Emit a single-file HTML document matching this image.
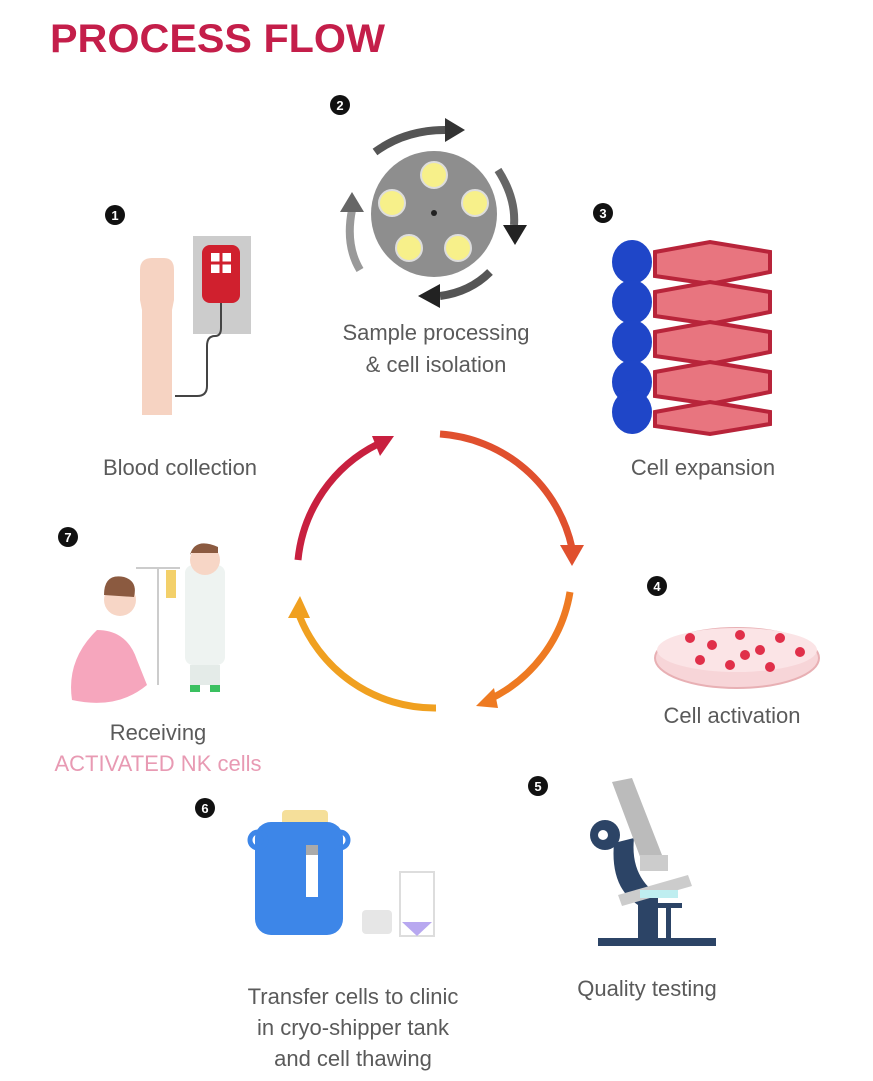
<!DOCTYPE html>
<html><head><meta charset="utf-8"><style>
html,body{margin:0;padding:0;background:#fff}
svg{display:block}
text{font-family:"Liberation Sans",sans-serif}
.l{font-size:22px;fill:#5a5a5a;text-anchor:middle}
.n{font-size:13px;fill:#fff;font-weight:bold;text-anchor:middle}
</style></head><body>
<svg width="873" height="1081" viewBox="0 0 873 1081" xmlns="http://www.w3.org/2000/svg">
<text x="50" y="52" font-size="40" font-weight="bold" fill="#c41e4a" textLength="335" lengthAdjust="spacingAndGlyphs">PROCESS FLOW</text>

<!-- cycle arrows -->
<path d="M298,560 A145,145 0 0 1 378,444" fill="none" stroke="#c8203f" stroke-width="7"/>
<polygon points="372,436 394,436 380,456" fill="#c8203f"/>
<path d="M440,434 A145,145 0 0 1 572,548" fill="none" stroke="#e0502e" stroke-width="7"/>
<polygon points="560,545 584,545 572,566" fill="#e0502e"/>
<path d="M570,592 A145,145 0 0 1 488,700" fill="none" stroke="#ee7a22" stroke-width="7"/>
<polygon points="476,706 494,688 498,708" fill="#ee7a22"/>
<path d="M436,708 A145,145 0 0 1 298,612" fill="none" stroke="#f0a020" stroke-width="7"/>
<polygon points="288,618 300,596 310,618" fill="#f0a020"/>

<!-- step numbers -->
<g fill="#111">
<circle cx="115" cy="215" r="10"/><circle cx="340" cy="105" r="10"/><circle cx="603" cy="213" r="10"/><circle cx="657" cy="586" r="10"/><circle cx="538" cy="786" r="10"/><circle cx="205" cy="808" r="10"/><circle cx="68" cy="537" r="10"/>
</g>
<text class="n" x="115" y="220">1</text><text class="n" x="340" y="110">2</text><text class="n" x="603" y="218">3</text><text class="n" x="657" y="591">4</text><text class="n" x="538" y="791">5</text><text class="n" x="205" y="813">6</text><text class="n" x="68" y="542">7</text>

<!-- 1 blood collection -->
<path d="M140,270 q0,-12 12,-12 h12 q10,0 10,12 v30 l-2,10 v105 h-30 v-105 l-2,-10 z" fill="#f6d3c2"/>
<rect x="193" y="236" width="58" height="98" fill="#ccc"/>
<rect x="202" y="245" width="38" height="58" rx="8" fill="#d0202e"/>
<rect x="211" y="253" width="20" height="20" fill="#fff"/><line x1="221" y1="253" x2="221" y2="273" stroke="#d0202e" stroke-width="3"/><line x1="211" y1="263" x2="231" y2="263" stroke="#d0202e" stroke-width="3"/>
<path d="M221,303 v25 q0,8 -6,8 h-0 q-8,0 -8,10 v40 q0,10 -10,10 h-22" fill="none" stroke="#444" stroke-width="2"/>
<text class="l" x="180" y="475">Blood collection</text>

<!-- 2 centrifuge -->
<circle cx="434" cy="214" r="63" fill="#8e8e8e"/>
<g fill="#f7f08a" stroke="#ddd" stroke-width="2">
<circle cx="434" cy="175" r="13"/><circle cx="475" cy="203" r="13"/><circle cx="458" cy="248" r="13"/><circle cx="409" cy="248" r="13"/><circle cx="392" cy="203" r="13"/>
</g>
<circle cx="434" cy="213" r="3" fill="#222"/>
<path d="M375,152 q30,-22 70,-22" fill="none" stroke="#555" stroke-width="8"/><polygon points="445,118 465,130 445,142" fill="#333"/>
<path d="M498,170 q18,28 16,55" fill="none" stroke="#666" stroke-width="8"/><polygon points="503,225 527,225 515,245" fill="#222"/>
<path d="M490,272 q-20,20 -50,24" fill="none" stroke="#555" stroke-width="8"/><polygon points="440,284 418,296 440,308" fill="#222"/>
<path d="M360,270 q-15,-25 -8,-60" fill="none" stroke="#999" stroke-width="8"/><polygon points="340,212 352,192 364,212" fill="#666"/>
<text class="l" x="436" y="340">Sample processing</text>
<text class="l" x="436" y="372">&amp; cell isolation</text>

<!-- 3 cell expansion -->
<g fill="#e8757f" stroke="#b8243a" stroke-width="4">
<path d="M655,252 l55,-10 l60,10 v20 l-60,12 l-55,-8 z"/>
<path d="M655,292 l55,-10 l60,10 v20 l-60,12 l-55,-8 z"/>
<path d="M655,332 l55,-10 l60,10 v20 l-60,12 l-55,-8 z"/>
<path d="M655,372 l55,-10 l60,10 v20 l-60,12 l-55,-8 z"/>
<path d="M655,412 l55,-10 l60,10 v12 l-60,10 l-55,-8 z"/>
</g>
<g fill="#1f46c8">
<ellipse cx="632" cy="262" rx="20" ry="22"/><ellipse cx="632" cy="302" rx="20" ry="22"/><ellipse cx="632" cy="342" rx="20" ry="22"/><ellipse cx="632" cy="382" rx="20" ry="22"/><ellipse cx="632" cy="412" rx="20" ry="22"/>
</g>
<text class="l" x="703" y="475">Cell expansion</text>

<!-- 4 cell activation -->
<ellipse cx="737" cy="658" rx="82" ry="30" fill="#f7d5d8" stroke="#e8b0b4" stroke-width="2"/>
<ellipse cx="737" cy="650" rx="80" ry="22" fill="#fbe4e6"/>
<g fill="#e0304a">
<circle cx="690" cy="638" r="5"/><circle cx="712" cy="645" r="5"/><circle cx="740" cy="635" r="5"/><circle cx="760" cy="650" r="5"/><circle cx="780" cy="638" r="5"/><circle cx="700" cy="660" r="5"/><circle cx="730" cy="665" r="5"/><circle cx="770" cy="667" r="5"/><circle cx="800" cy="652" r="5"/><circle cx="745" cy="655" r="5"/>
</g>
<text class="l" x="732" y="723">Cell activation</text>

<!-- 5 microscope -->
<rect x="598" y="938" width="118" height="8" fill="#2c4466"/>
<path d="M638,940 v-35 q-28,-18 -24,-62 l20,-5 q-4,38 24,57 v45 z" fill="#2c4466"/>
<circle cx="605" cy="835" r="15" fill="#2c4466"/><circle cx="603" cy="835" r="5" fill="#fff"/>
<rect x="666" y="905" width="5" height="35" fill="#2c4466"/><rect x="654" y="903" width="28" height="5" fill="#2c4466"/>
<polygon points="618,895 688,875 692,886 622,906" fill="#ccc"/>
<rect x="640" y="890" width="38" height="8" fill="#bfeef0"/>
<polygon points="612,782 632,778 662,855 642,862" fill="#bbb"/>
<rect x="640" y="855" width="28" height="16" fill="#ccc"/>
<text class="l" x="647" y="996">Quality testing</text>

<!-- 6 cryo tank -->
<rect x="282" y="810" width="46" height="16" rx="4" fill="#f5df9a"/>
<rect x="255" y="822" width="88" height="113" rx="16" fill="#3d86e8"/>
<circle cx="258" cy="840" r="8" fill="none" stroke="#3d86e8" stroke-width="5"/><circle cx="340" cy="840" r="8" fill="none" stroke="#3d86e8" stroke-width="5"/>
<rect x="306" y="845" width="12" height="52" fill="#fff"/><rect x="306" y="845" width="12" height="10" fill="#aaa"/>
<rect x="362" y="910" width="30" height="24" rx="4" fill="#e6e6e6"/>
<rect x="400" y="872" width="34" height="64" fill="#fff" stroke="#ddd" stroke-width="2"/>
<polygon points="402,922 432,922 417,936" fill="#b8a8f0"/>
<text class="l" x="353" y="1004">Transfer cells to clinic</text>
<text class="l" x="353" y="1035">in cryo-shipper tank</text>
<text class="l" x="353" y="1066">and cell thawing</text>

<!-- 7 receiving -->
<line x1="158" y1="568" x2="158" y2="685" stroke="#ccc" stroke-width="2"/>
<line x1="136" y1="568" x2="180" y2="568" stroke="#ccc" stroke-width="2"/>
<rect x="166" y="570" width="10" height="28" fill="#f3d06a"/>
<path d="M72,700 q-6,-40 25,-70 q30,0 40,30 l10,25 q-30,25 -75,15z" fill="#f6a6bd"/>
<circle cx="120" cy="600" r="16" fill="#f7d6c6"/><path d="M104,595 q0,-22 20,-18 q14,4 10,20" fill="#8b5a40"/>
<rect x="185" y="565" width="40" height="100" rx="8" fill="#eef3f1"/>
<circle cx="205" cy="560" r="15" fill="#f7d6c6"/><path d="M190,555 q5,-18 28,-8 v6 h-28z" fill="#8b5a40"/>
<rect x="190" y="684" width="10" height="8" fill="#3ac060"/><rect x="210" y="684" width="10" height="8" fill="#3ac060"/>
<rect x="190" y="665" width="30" height="20" fill="#e4ebe8"/>
<text class="l" x="158" y="740">Receiving</text>
<text class="l" x="158" y="771" style="fill:#e89ab3">ACTIVATED NK cells</text>
</svg>
</body></html>
